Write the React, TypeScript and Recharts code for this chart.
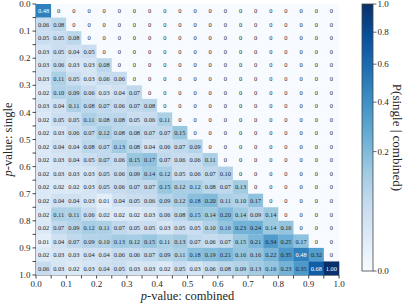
import React from "react";
import { ScatterChart, Scatter, XAxis, YAxis, Label } from "recharts";

// P(single | combined) — row = single p-value bin, column = combined p-value bin
const ROWS: number[][] = [
  [0.48],
  [0.06, 0.08],
  [0.05, 0.05, 0.08],
  [0.03, 0.05, 0.04, 0.05],
  [0.03, 0.06, 0.03, 0.03, 0.08],
  [0.03, 0.11, 0.05, 0.03, 0.06, 0.06],
  [0.02, 0.1, 0.09, 0.06, 0.03, 0.04, 0.07],
  [0.03, 0.04, 0.11, 0.08, 0.07, 0.06, 0.07, 0.08],
  [0.02, 0.05, 0.05, 0.11, 0.08, 0.08, 0.05, 0.06, 0.11],
  [0.02, 0.03, 0.06, 0.07, 0.12, 0.08, 0.08, 0.07, 0.07, 0.15],
  [0.02, 0.04, 0.04, 0.08, 0.07, 0.13, 0.08, 0.04, 0.06, 0.07, 0.09],
  [0.02, 0.03, 0.04, 0.05, 0.07, 0.06, 0.15, 0.17, 0.07, 0.06, 0.06, 0.11],
  [0.02, 0.03, 0.03, 0.03, 0.05, 0.06, 0.09, 0.14, 0.12, 0.05, 0.06, 0.07, 0.1],
  [0.02, 0.02, 0.02, 0.03, 0.05, 0.06, 0.07, 0.07, 0.15, 0.12, 0.12, 0.08, 0.07, 0.13],
  [0.02, 0.04, 0.04, 0.03, 0.01, 0.04, 0.05, 0.06, 0.09, 0.12, 0.18, 0.2, 0.11, 0.1, 0.17],
  [0.02, 0.11, 0.11, 0.06, 0.02, 0.02, 0.02, 0.03, 0.06, 0.08, 0.15, 0.14, 0.2, 0.14, 0.09, 0.14],
  [0.02, 0.07, 0.09, 0.12, 0.11, 0.07, 0.05, 0.05, 0.03, 0.05, 0.05, 0.1, 0.16, 0.23, 0.24, 0.14, 0.16],
  [0.01, 0.04, 0.07, 0.09, 0.1, 0.13, 0.12, 0.15, 0.11, 0.13, 0.07, 0.06, 0.07, 0.15, 0.21, 0.34, 0.25, 0.17],
  [0.02, 0.03, 0.03, 0.04, 0.04, 0.06, 0.06, 0.07, 0.09, 0.11, 0.18, 0.19, 0.21, 0.16, 0.16, 0.22, 0.35, 0.48, 0.32],
  [0.06, 0.03, 0.02, 0.03, 0.04, 0.05, 0.03, 0.03, 0.02, 0.05, 0.03, 0.06, 0.08, 0.09, 0.13, 0.16, 0.23, 0.35, 0.68, 1.0],
];

const N = 20;
const AXIS_TICKS = [
  0, 0.05, 0.1, 0.15, 0.2, 0.25, 0.3, 0.35, 0.4, 0.45, 0.5, 0.55, 0.6, 0.65, 0.7, 0.75, 0.8,
  0.85, 0.9, 0.95, 1,
];
const CB_TICKS = [0, 0.2, 0.4, 0.6, 0.8, 1.0];

// matplotlib "Blues"
const BLUES = [
  "#f7fbff", "#deebf7", "#c6dbef", "#9ecae1", "#6baed6",
  "#4292c6", "#2171b5", "#08519c", "#08306b",
];

const W = 411;
const H = 308;
const PLOT_L = 36;
const PLOT_R = 339;
const PLOT_T = 4;
const PLOT_B = 275;
const CELL_W = (PLOT_R - PLOT_L) / N;
const CELL_H = (PLOT_B - PLOT_T) / N;
const FONT = "'Liberation Serif', 'DejaVu Serif', serif";

function hexToRgb(h: string) {
  return [1, 3, 5].map((i) => parseInt(h.slice(i, i + 2), 16));
}

function blues(t: number): string {
  const s = Math.max(0, Math.min(1, t)) * (BLUES.length - 1);
  const i = Math.min(BLUES.length - 2, Math.floor(s));
  const f = s - i;
  const a = hexToRgb(BLUES[i]);
  const b = hexToRgb(BLUES[i + 1]);
  const c = a.map((v, k) => Math.round(v + (b[k] - v) * f));
  return `rgb(${c[0]},${c[1]},${c[2]})`;
}

// PowerNorm(gamma = 0.5)
const norm = (v: number) => Math.sqrt(v);

const cells = [];
for (let i = 0; i < N; i++) {
  for (let j = 0; j < N; j++) {
    const v = j <= i ? ROWS[i][j] : 0;
    cells.push({ x: (j + 0.5) / N, y: (i + 0.5) / N, v });
  }
}

function Cell(props: any) {
  const { cx, cy, payload } = props;
  const v: number = payload.v;
  const label = v === 0 ? "0" : v.toFixed(2);
  return (
    <g>
      <rect
        x={cx - CELL_W / 2}
        y={cy - CELL_H / 2}
        width={CELL_W + 0.3}
        height={CELL_H + 0.3}
        fill={blues(norm(v))}
      />
      <text
        x={cx}
        y={cy}
        textAnchor="middle"
        dominantBaseline="central"
        fontSize={6.4}
        fontFamily={FONT}
        fill={v > 0.4 ? "#ffffff" : "#262626"}
      >
        {label}
      </text>
    </g>
  );
}

const tickFmt = (v: number) => (Math.round(v * 100) % 10 === 0 ? v.toFixed(1) : "");
const tickStyle = { fontSize: 9, fontFamily: FONT, fill: "#262626" };

function Colorbar() {
  const x0 = 362;
  const x1 = 373;
  const top = PLOT_T;
  const bot = 271;
  return (
    <svg
      width={W}
      height={H}
      style={{ position: "absolute", left: 0, top: 0, pointerEvents: "none" }}
    >
      <defs>
        <linearGradient id="cb" x1="0" y1="1" x2="0" y2="0">
          {BLUES.map((c, k) => (
            <stop key={k} offset={k / (BLUES.length - 1)} stopColor={c} />
          ))}
        </linearGradient>
      </defs>
      <rect x={x0} y={top} width={x1 - x0} height={bot - top} fill="url(#cb)" stroke="#444" strokeWidth={0.8} />
      {CB_TICKS.map((t) => {
        const y = bot - norm(t) * (bot - top);
        return (
          <g key={t}>
            <line x1={x1} x2={x1 + 3.5} y1={y} y2={y} stroke="#444" strokeWidth={0.8} />
            <text x={x1 + 4.5} y={y} dominantBaseline="central" {...tickStyle}>
              {t.toFixed(1)}
            </text>
          </g>
        );
      })}
      <text
        transform={`translate(397, ${(top + bot) / 2}) rotate(90)`}
        textAnchor="middle"
        dominantBaseline="central"
        fontSize={13}
        fontFamily={FONT}
        fill="#262626"
      >
        P(single | combined)
      </text>
    </svg>
  );
}

export default function App() {
  return (
    <div style={{ position: "fixed", left: 0, top: 0, width: W, height: H, background: "#fff" }}>
      <ScatterChart
        width={W}
        height={H}
        margin={{ top: PLOT_T, right: W - PLOT_R, left: 0, bottom: 0 }}
      >
        <XAxis
          dataKey="x"
          type="number"
          domain={[0, 1]}
          ticks={AXIS_TICKS}
          tickFormatter={tickFmt}
          interval={0}
          height={H - PLOT_B}
          tickSize={3.5}
          tick={tickStyle}
          stroke="#444"
        >
          <Label
            content={() => (
              <text x={(PLOT_L + PLOT_R) / 2} y={300} textAnchor="middle" fontSize={12.5} fontFamily={FONT} fill="#262626">
                <tspan fontStyle="italic">p</tspan>-value: combined
              </text>
            )}
          />
        </XAxis>
        <YAxis
          dataKey="y"
          type="number"
          domain={[0, 1]}
          reversed
          ticks={AXIS_TICKS}
          tickFormatter={tickFmt}
          interval={0}
          width={PLOT_L}
          tickSize={3.5}
          tick={tickStyle}
          stroke="#444"
        >
          <Label
            content={() => (
              <text
                transform={`translate(8, ${(PLOT_T + PLOT_B) / 2}) rotate(-90)`}
                textAnchor="middle"
                dominantBaseline="central"
                fontSize={12.5}
                fontFamily={FONT}
                fill="#262626"
              >
                <tspan fontStyle="italic">p</tspan>-value: single
              </text>
            )}
          />
        </YAxis>
        <XAxis xAxisId="top" orientation="top" type="number" domain={[0, 1]} height={0} tick={false} tickLine={false} stroke="#444" />
        <YAxis yAxisId="right" orientation="right" type="number" domain={[0, 1]} width={0} tick={false} tickLine={false} stroke="#444" />
        <Scatter data={cells} shape={Cell} isAnimationActive={false} />
      </ScatterChart>
      <Colorbar />
    </div>
  );
}
